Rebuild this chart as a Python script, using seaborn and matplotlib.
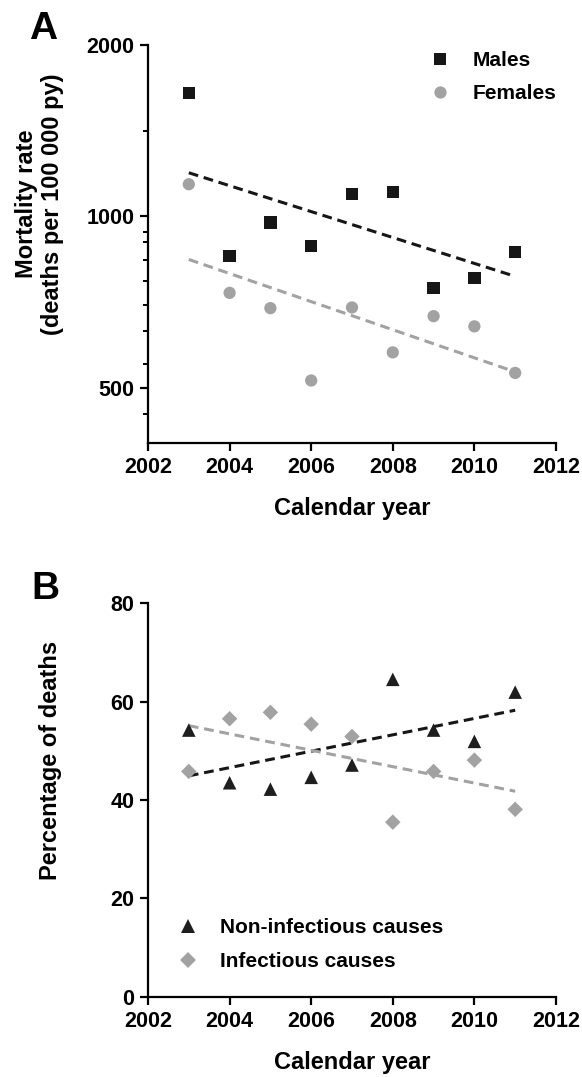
import numpy as np
import pandas as pd
import matplotlib
matplotlib.use("Agg")
import matplotlib.pyplot as plt
from matplotlib.ticker import FixedLocator, NullFormatter
import seaborn as sns

# ---- data -------------------------------------------------------------
years = [2003, 2004, 2005, 2006, 2007, 2008, 2009, 2010, 2011]
males_rate = [1645, 853, 976, 888, 1094, 1103, 749, 780, 867]
females_rate = [1139, 734, 690, 515, 692, 577, 668, 641, 531]
noninfectious_pct = [54.2, 43.5, 42.2, 44.6, 47.1, 64.5, 54.2, 51.9, 61.9]
infectious_pct = [45.8, 56.5, 57.8, 55.4, 52.9, 35.5, 45.8, 48.1, 38.1]

year_ticks = [2002, 2004, 2006, 2008, 2010, 2012]
rate_ticks = [500, 1000, 2000]
rate_minor_ticks = [450, 550, 630, 700, 770, 840, 900, 940, 1410]
pct_ticks = [0, 20, 40, 60, 80]

# ---- style ------------------------------------------------------------
sns.set_theme(style="ticks")
plt.rcParams["font.family"] = ["Liberation Sans", "DejaVu Sans"]
plt.rcParams["font.weight"] = "bold"
plt.rcParams["axes.labelweight"] = "bold"
for key in ("text.color", "axes.labelcolor", "xtick.color", "ytick.color",
            "axes.edgecolor"):
    plt.rcParams[key] = "black"

BLACK = "#161616"
GREY = "#a2a2a2"
TICK_FS = 15.5
LABEL_FS = 17
LINE_STYLE = (0, (3.2, 1.9))

fig = plt.figure(figsize=(5.82, 10.77), dpi=100)
axA = fig.add_axes([0.2543, 0.5887, 0.701, 0.3695])
axB = fig.add_axes([0.2543, 0.0743, 0.701, 0.3658])


def style_axis(ax):
    for side in ("top", "right"):
        ax.spines[side].set_visible(False)
    for side in ("left", "bottom"):
        ax.spines[side].set_linewidth(1.6)
        ax.spines[side].set_color("black")
    ax.tick_params(which="major", length=5.8, width=1.6, color="black",
                   labelcolor="black", labelsize=TICK_FS, pad=4,
                   direction="out")
    ax.tick_params(which="minor", length=3.6, width=1.4, color="black")
    for lab in ax.get_xticklabels() + ax.get_yticklabels():
        lab.set_fontweight("bold")


# ---- panel A: mortality rate by sex (log scale) ------------------------
dfA = pd.DataFrame({
    "year": years * 2,
    "rate": males_rate + females_rate,
    "sex": ["Males"] * len(years) + ["Females"] * len(years),
})

for rates, col in ((males_rate, BLACK), (females_rate, GREY)):
    coef = np.polyfit(years, np.log10(rates), 1)
    ends = np.array([years[0], years[-1]])
    axA.plot(ends, 10 ** np.polyval(coef, ends), color=col, lw=2.2,
             linestyle=LINE_STYLE, zorder=1)

sns.scatterplot(data=dfA, x="year", y="rate", hue="sex", style="sex",
                palette={"Males": BLACK, "Females": GREY},
                markers={"Males": "s", "Females": "o"},
                s=78, linewidth=0, ax=axA, zorder=3, clip_on=False)

axA.set_yscale("log")
axA.set_xlim(2002, 2012)
axA.set_ylim(400, 2000)
axA.set_xticks(year_ticks, labels=[str(t) for t in year_ticks])
axA.set_yticks(rate_ticks, labels=[str(t) for t in rate_ticks])
axA.yaxis.set_minor_locator(FixedLocator(rate_minor_ticks))
axA.yaxis.set_minor_formatter(NullFormatter())
axA.xaxis.set_minor_locator(FixedLocator([]))
axA.set_xlabel("Calendar year", fontsize=LABEL_FS, fontweight="bold", labelpad=14)
axA.set_ylabel("Mortality rate\n(deaths per 100 000 py)", fontsize=LABEL_FS,
               fontweight="bold", multialignment="center")
axA.yaxis.set_label_coords(-0.205, 0.60)
style_axis(axA)

legA = axA.get_legend()
hA = legA.legend_handles
lA = [t.get_text() for t in legA.get_texts()]
axA.legend(hA, lA, loc="upper left", bbox_to_anchor=(0.69, 0.985),
           frameon=False, handlelength=1.0, handletextpad=1.05,
           labelspacing=0.68, borderaxespad=0, borderpad=0,
           prop={"weight": "bold", "size": 15})

# ---- panel B: share of deaths by cause ---------------------------------
dfB = pd.DataFrame({
    "year": years * 2,
    "pct": noninfectious_pct + infectious_pct,
    "cause": ["Non-infectious causes"] * len(years)
    + ["Infectious causes"] * len(years),
})

for vals, col in ((noninfectious_pct, BLACK), (infectious_pct, GREY)):
    coef = np.polyfit(years, vals, 1)
    ends = np.array([years[0], years[-1]])
    axB.plot(ends, np.polyval(coef, ends), color=col, lw=2.2,
             linestyle=LINE_STYLE, zorder=1)

sns.scatterplot(data=dfB, x="year", y="pct", hue="cause", style="cause",
                size="cause",
                sizes={"Non-infectious causes": 95, "Infectious causes": 62},
                palette={"Non-infectious causes": "#1e1e1e",
                         "Infectious causes": GREY},
                markers={"Non-infectious causes": "^", "Infectious causes": "D"},
                linewidth=0, ax=axB, zorder=3, clip_on=False)

axB.set_xlim(2002, 2012)
axB.set_ylim(0, 80)
axB.set_xticks(year_ticks, labels=[str(t) for t in year_ticks])
axB.set_yticks(pct_ticks, labels=[str(t) for t in pct_ticks])
axB.set_xlabel("Calendar year", fontsize=LABEL_FS, fontweight="bold", labelpad=14)
axB.set_ylabel("Percentage of deaths", fontsize=LABEL_FS, fontweight="bold")
axB.yaxis.set_label_coords(-0.21, 0.60)
style_axis(axB)

legB = axB.get_legend()
hB = legB.legend_handles
lB = [t.get_text() for t in legB.get_texts()]
axB.legend(hB, lB, loc="upper left", bbox_to_anchor=(0.073, 0.20),
           frameon=False, handlelength=1.0, handletextpad=1.05,
           labelspacing=0.72, borderaxespad=0, borderpad=0,
           prop={"weight": "bold", "size": 15})

# ---- panel letters -----------------------------------------------------
fig.text(29 / 582, 1 - 39 / 1077, "A", fontsize=28, fontweight="bold",
         ha="left", va="baseline")
fig.text(31 / 582, 1 - 599 / 1077, "B", fontsize=28, fontweight="bold",
         ha="left", va="baseline")

fig.savefig("out.png", dpi=100)
